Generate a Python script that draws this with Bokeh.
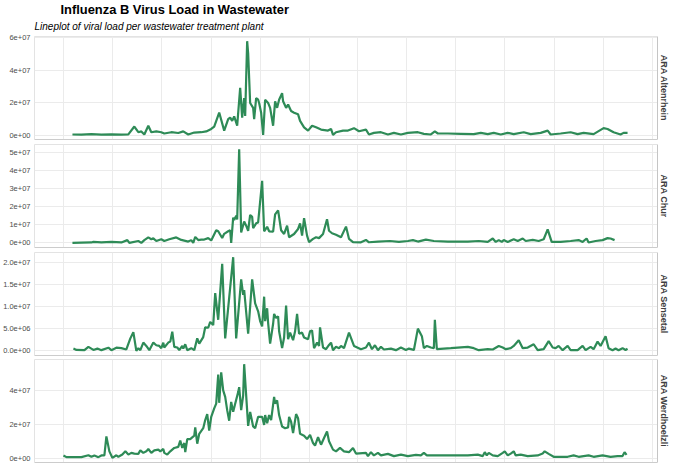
from bokeh.plotting import figure
from bokeh.layouts import column
from bokeh.models import Range1d, FixedTicker, Span, Title
from bokeh.embed import file_html
from bokeh.resources import INLINE

TITLE = "Influenza B Virus Load in Wastewater"
SUBTITLE = "Lineplot of viral load per wastewater treatment plant"
SITES = ["ARA Altenrhein", "ARA Chur", "ARA Sensetal", "ARA Werdhoelzli"]

# (sampling day index, viral load in millions of copies)
altenrhein = [(71,0.6),(80,0.5),(90,0.8),(100,0.5),(110,0.7),(120,0.5),(127,0.7),(133,5.5),(137,2),(140,2.5),
    (143,0.6),(147,6),(150,2),(155,2.5),(160,2),(163,1.2),(170,2),(177,1.5),(182,2.5),(187,0.6),(193,1.8),(200,2),
    (205,2.5),(210,4),(213,5.5),(218,14.1),(223,3),(227,10),(229,11),(231,9),(233,11.7),(236,6),(239,29.3),(241,11),
    (243,23),(244,12),(246,58),(247,50.5),(249,20),(252,17),(253,10),(255,23),(257,22),(258,20),(260,14),(262,0.4),
    (264,22),(267,20),(269,17),(272,6),(274,21),(276,17),(278,22),(281,26),(282,21),(285,17),(287,19),(290,15),
    (293,14),(297,13),(299,9),(303,5),(307,3),(311,6),(315,5),(320,3.6),(327,3),(330,4),(332,0.4),(335,2),(342,3),
    (347,3),(353,4.5),(358,2.6),(365,3.6),(368,0.6),(373,1.6),(380,2),(387,0.6),(393,1.6),(400,0.6),(407,1.6),
    (417,2),(423,1),(430,0.6),(434,2.5),(437,1.2),(447,1.2),(460,1),(473,0.8),(480,1.6),(487,0.8),(493,1.6),
    (500,0.6),(507,1.6),(513,0.8),(523,2),(530,0.8),(540,1.6),(547,3),(550,0.6),(560,1.2),(570,2),(577,0.8),
    (583,1.6),(593,0.8),(603,4.5),(607,4),(613,2),(620,0.6),(623,1.6),(627,1.6)]

chur = [(71,0.0),(80,0.1),(90,0.2),(92,0.5),(100,0.3),(110,0.5),(120,0.2),(126,1.5),(128,0.0),(137,1.0),(140,0.0),
    (143,1.5),(147,3.0),(150,2.0),(152,2.5),(155,1.0),(160,2.0),(163,1.0),(168,2.0),(175,3.0),(180,1.6),(187,0.7),
    (190,1.5),(192,0.0),(194,3.3),(197,1.5),(200,1.8),(203,1.8),(207,2.6),(210,1.3),(215,7.0),(217,6.4),(221,2.7),
    (223,5.0),(227,6.4),(229,7.0),(230,0.0),(232,14.0),(233,12.6),(235,15.0),(236,13.0),(238,52.0),(240,5.8),
    (243,11.8),(245,9.5),(247,6.7),(249,15.5),(251,14.4),(252,8.2),(255,10.8),(257,11.3),(261,34.4),(263,6.4),
    (266,8.9),(268,6.4),(272,6.2),(274,15.8),(277,18.0),(280,7.0),(283,4.9),(286,9.5),(288,3.1),(293,4.9),(297,7.7),
    (299,10.8),(301,4.0),(303,13.7),(306,4.0),(308,0.4),(312,2.2),(315,3.1),(318,2.6),(322,4.9),(326,13.1),(328,6.7),
    (331,5.3),(335,4.5),(340,3.1),(345,9.0),(348,2.2),(352,0.4),(360,0.3),(365,1.6),(368,0.3),(377,0.7),(389,1.0),
    (398,0.5),(407,1.0),(412,1.5),(417,0.7),(425,1.8),(433,1.0),(447,0.7),(467,0.7),(478,1.0),(487,0.5),(492,2.4),
    (495,0.5),(498,1.5),(501,0.5),(503,1.5),(507,0.5),(513,2.0),(517,1.0),(522,2.4),(525,1.0),(532,1.6),(538,1.0),
    (543,2.0),(547,7.5),(551,0.5),(560,0.5),(570,1.0),(578,1.5),(582,0.5),(586,2.4),(588,0.2),(595,1.0),(602,1.5),
    (607,2.6),(610,2.4),(614,1.5)]

sensetal = [(72,0.5),(75,0.2),(83,0.15),(87,0.9),(92,0.2),(96,0.5),(100,0.15),(107,0.7),(110,0.15),(115,0.7),
    (120,0.6),(125,0.3),(129,2.8),(132,4.2),(135,0.0),(137,0.6),(139,0.15),(142,1.85),(145,1.1),(148,0.15),(152,1.85),
    (155,1.26),(158,1.1),(160,0.6),(162,1.85),(163,0.74),(167,1.85),(169,2.07),(171,4.3),(173,0.9),(176,0.74),
    (178,0.15),(181,1.1),(182,0.5),(184,1.48),(186,0.15),(190,0.6),(193,0.15),(196,2.8),(198,1.63),(202,3.1),(204,5.3),
    (207,5.2),(209,6.5),(212,5.8),(214,13.0),(217,7.0),(221,19.6),(224,2.8),(232,21.1),(235,2.8),(240,16.1),(242,12.6),
    (243,13.7),(247,3.85),(251,16.1),(254,10.7),(257,8.9),(259,6.7),(261,5.5),(263,12.2),(264,6.7),(266,9.6),(267,6.3),
    (269,1.63),(272,6.1),(273,8.3),(275,7.4),(277,7.8),(278,4.4),(281,0.6),(283,3.0),(285,10.2),(287,2.6),(289,4.1),
    (292,2.4),(294,4.4),(296,8.3),(298,3.85),(301,4.1),(303,3.0),(307,2.6),(309,4.4),(311,4.6),(313,0.6),(316,1.85),
    (318,1.1),(319,5.3),(322,0.74),(325,0.37),(328,1.33),(330,1.85),(332,0.15),(335,0.9),(338,0.6),(340,1.1),(343,0.6),
    (348,4.1),(353,1.1),(360,0.37),(365,0.74),(368,1.85),(371,0.37),(374,1.26),(377,0.15),(380,0.9),(383,0.3),(390,0.5),
    (395,0.15),(400,0.74),(405,0.2),(408,0.5),(413,0.2),(417,5.0),(421,3.3),(423,0.6),(426,1.1),(430,0.74),(433,0.6),
    (434,7.0),(436,0.37),(450,0.6),(467,0.9),(473,0.6),(478,0.15),(487,0.37),(492,0.3),(498,1.1),(502,0.74),(505,0.37),
    (510,0.6),(513,1.1),(518,2.4),(522,0.6),(527,0.74),(533,1.48),(537,0.15),(543,0.37),(548,2.2),(552,0.74),(555,0.6),
    (558,1.1),(562,0.15),(567,1.1),(570,0.15),(577,0.15),(582,1.1),(585,0.15),(590,0.9),(593,0.37),(597,2.07),(600,1.1),
    (605,3.3),(608,0.6),(612,0.15),(615,0.5),(618,0.15),(622,0.6),(625,0.2),(627,0.45)]

werdhoelzli = [(62,1.6),(65,0.6),(80,0.6),(87,1.7),(90,0.8),(93,1.6),(97,0.6),(100,1.6),(103,1.6),(105,12.8),(108,4.0),
    (111,0.2),(115,1.7),(117,0.8),(121,2.1),(124,4.0),(127,2.1),(130,3.1),(133,2.7),(137,2.5),(139,4.6),(142,3.1),
    (145,4.0),(147,5.4),(150,3.1),(153,4.6),(157,5.0),(159,4.0),(162,5.4),(163,3.1),(166,2.1),(169,4.0),(173,6.0),
    (177,6.6),(179,10.4),(181,6.0),(183,8.9),(184,3.5),(186,11.2),(189,11.2),(193,13.2),(194,18.1),(196,8.5),(198,14.3),
    (202,17.6),(204,22.4),(206,25.9),(208,16.2),(210,24.3),(213,29.2),(215,32.0),(217,49.1),(218,32.5),(220,50.4),
    (222,39.8),(224,36.0),(226,28.2),(228,22.0),(230,33.0),(232,27.2),(234,32.0),(237,38.8),(238,41.7),(240,28.2),
    (242,36.9),(243,55.2),(245,36.9),(247,19.0),(249,27.2),(252,18.6),(254,17.6),(257,24.3),(261,24.3),(263,19.5),
    (264,25.3),(266,20.5),(268,25.3),(270,22.4),(273,36.0),(274,32.0),(276,34.0),(278,25.3),(281,18.6),(284,17.6),
    (287,18.1),(288,24.3),(290,21.4),(292,14.7),(295,25.9),(297,23.4),(299,14.3),(303,13.2),(306,11.2),(309,13.7),
    (312,8.9),(314,7.4),(317,12.3),(320,7.9),(323,11.8),(326,15.7),(328,9.9),(332,5.0),(335,4.0),(339,6.0),(343,4.0),
    (348,3.5),(352,6.0),(355,2.7),(365,3.1),(367,1.2),(370,3.5),(373,1.6),(377,3.1),(380,1.6),(387,2.5),(393,1.2),
    (400,2.1),(407,1.2),(415,1.9),(420,1.6),(423,3.1),(426,1.6),(437,1.6),(453,1.6),(467,1.6),(477,2.1),(482,1.2),
    (484,3.5),(486,1.6),(488,3.1),(492,1.6),(497,1.2),(502,3.1),(504,4.0),(507,1.6),(510,2.7),(513,4.0),(515,1.6),
    (520,2.1),(527,1.2),(537,1.6),(542,2.7),(544,4.0),(548,2.5),(553,0.8),(567,0.8),(573,1.6),(578,0.8),(588,1.6),
    (593,0.8),(602,1.6),(610,0.8),(617,1.2),(622,1.2),(624,3.5),(626,1.9)]

SERIES = [altenrhein, chur, sensetal, werdhoelzli]

# y-axis ticks and their labels per panel
Y_TICKS = [[0, 2e7, 4e7, 6e7], [0, 1e7, 2e7, 3e7, 4e7, 5e7], [0, 5e6, 1e7, 1.5e7, 2e7], [0, 2e7, 4e7]]
Y_LABELS = [["0e+00", "2e+07", "4e+07", "6e+07"],
            ["0e+00", "1e+07", "2e+07", "3e+07", "4e+07", "5e+07"],
            ["0.0e+00", "5.0e+06", "1.0e+07", "1.5e+07", "2.0e+07"],
            ["0e+00", "2e+07", "4e+07"]]
# vertical (time) grid positions
X_GRID = [62, 111, 160, 210, 259, 308, 357, 406, 455, 504, 554, 603, 652]

LINE_COLOR = "#2e8b57"
FONT = "Liberation Sans"
W = 680
LEFT, RIGHT = 33, 23
# (height, top border, bottom border)
SIZES = [(141, 36, 2), (108, 3, 2), (108, 3, 2), (109, 2, 4)]

figs = []
for i, (site, data) in enumerate(zip(SITES, SERIES)):
    days = [d for d, _ in data]
    load = [v * 1e6 for _, v in data]
    lo, hi = min(load), max(load)
    pad = 0.05 * (hi - lo)
    h, bt, bb = SIZES[i]
    p = figure(width=W, height=h, output_backend="svg", toolbar_location=None,
               x_range=Range1d(33, 657), y_range=Range1d(lo - pad, hi + pad),
               min_border_left=LEFT, min_border_right=RIGHT, min_border_top=bt, min_border_bottom=bb)
    p.outline_line_color = "#e3e3e3"
    p.background_fill_color = "white"
    p.xaxis.visible = False
    p.xgrid.ticker = FixedTicker(ticks=X_GRID)
    p.xgrid.grid_line_color = "#ebebeb"
    p.ygrid.grid_line_color = "#ebebeb"
    ax = p.yaxis[0]
    ax.ticker = FixedTicker(ticks=Y_TICKS[i])
    ax.major_label_overrides = {t: l for t, l in zip(Y_TICKS[i], Y_LABELS[i])}
    ax.axis_line_color = None
    ax.major_tick_line_color = None
    ax.minor_tick_line_color = None
    ax.major_tick_out = 0
    ax.major_tick_in = 0
    ax.minor_tick_out = 0
    ax.minor_tick_in = 0
    ax.major_label_text_font = FONT
    ax.major_label_text_font_size = "7.5px"
    ax.major_label_text_color = "#4d4d4d"
    ax.major_label_standoff = 4
    p.line(days, load, line_color=LINE_COLOR, line_width=2.2)
    p.add_layout(Span(location=657, dimension="height", line_color="#a8a8a8", line_width=1))
    p.add_layout(Span(location=lo - pad, dimension="width", line_color="#b5b5b5", line_width=1))
    p.add_layout(Title(text=site, align="center", text_font=FONT, text_font_size="9px",
                       text_font_style="bold", text_color="#404040", standoff=2), "right")
    if i == 0:
        p.add_layout(Title(text=SUBTITLE, align="left", text_font=FONT, text_font_size="10px",
                           text_font_style="italic", text_color="black", standoff=9), "above")
        p.add_layout(Title(text=TITLE, align="left", text_font=FONT, text_font_size="12.9px",
                           text_font_style="bold", text_color="black", standoff=-4, offset=26), "above")
    figs.append(p)

layout = column(*figs, spacing=0)
open("out.html", "w").write(file_html(layout, INLINE))
